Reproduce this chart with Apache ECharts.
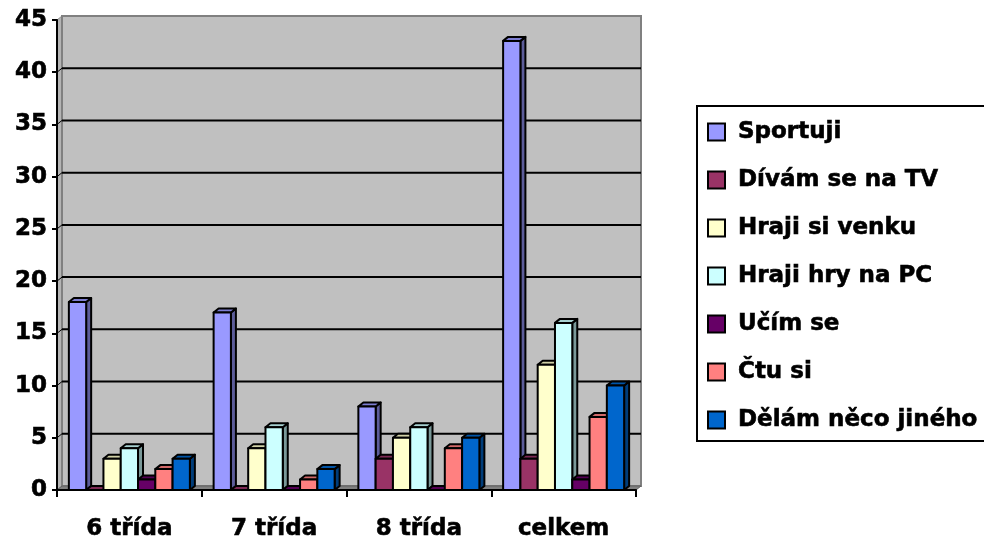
<!DOCTYPE html>
<html>
<head>
<meta charset="utf-8">
<script src="https://cdn.jsdelivr.net/npm/echarts@6/dist/echarts.min.js"></script>
<style>
  html, body { margin: 0; padding: 0; background: #fff; }
  #chart { width: 984px; height: 542px; }
</style>
</head>
<body>
<div id="chart"></div>
<script>
// Co děláme ve volném čase – počty žáků podle tříd
const categories = ['6 třída', '7 třída', '8 třída', 'celkem'];
const seriesNames = ['Sportuji', 'Dívám se na TV', 'Hraji si venku', 'Hraji hry na PC', 'Učím se', 'Čtu si', 'Dělám něco jiného'];
const sportuji = [18, 17, 8, 43];
const divamSeNaTV = [0, 0, 3, 3];
const hrajiSiVenku = [3, 4, 5, 12];
const hrajiHryNaPC = [4, 6, 6, 16];
const ucimSe = [1, 0, 0, 1];
const ctuSi = [2, 1, 4, 7];
const delamNecoJineho = [3, 2, 5, 10];
const seriesColors = ['#9999FF', '#993366', '#FFFFCC', '#CCFFFF', '#660066', '#FF8080', '#0066CC'];
const yMin = 0, yMax = 45, yStep = 5;

const seriesValues = [sportuji, divamSeNaTV, hrajiSiVenku, hrajiHryNaPC, ucimSe, ctuSi, delamNecoJineho];

// depth of the 3D effect in pixels
const DX = 5, DY = 4;
const FONT = '"DejaVu Sans", sans-serif';
const FONT_SIZE = 23;
const textWeight = { fontFamily: FONT, fontWeight: 'bold', fontSize: FONT_SIZE, color: '#000', textBorderColor: '#000', textBorderWidth: 0.6 };

function shade(hex, k) {
  const n = parseInt(hex.slice(1), 16);
  const r = Math.round(((n >> 16) & 255) * k);
  const g = Math.round(((n >> 8) & 255) * k);
  const b = Math.round((n & 255) * k);
  return 'rgb(' + r + ',' + g + ',' + b + ')';
}

// back wall, side wall, floor and gridlines
function renderWall(params, api) {
  const cs = params.coordSys;
  const x0 = cs.x, x1 = cs.x + cs.width;
  const yb = api.coord([0, yMin])[1];
  const yt = api.coord([0, yMax])[1];
  const children = [];
  children.push({
    type: 'polygon',
    shape: { points: [[x0, yt], [x0 + DX, yt - DY], [x0 + DX, yb - DY], [x0, yb]] },
    style: { fill: '#B4B4B4', stroke: '#909090', lineWidth: 1 }
  });
  children.push({
    type: 'rect',
    shape: { x: x0 + DX, y: yt - DY, width: x1 - x0, height: yb - yt },
    style: { fill: '#C0C0C0', stroke: '#808080', lineWidth: 2 }
  });
  for (let v = yMin + yStep; v < yMax; v += yStep) {
    const y = api.coord([0, v])[1];
    children.push({
      type: 'line',
      shape: { x1: x0 + DX, y1: y - DY, x2: x1 + DX, y2: y - DY },
      style: { stroke: '#000', lineWidth: 2 }
    });
    children.push({
      type: 'line',
      shape: { x1: x0, y1: y, x2: x0 + DX, y2: y - DY },
      style: { stroke: '#000', lineWidth: 1 }
    });
  }
  children.push({
    type: 'polygon',
    shape: { points: [[x0, yb], [x0 + DX, yb - DY], [x1 + DX, yb - DY], [x1, yb]] },
    style: { fill: '#808080', stroke: '#606060', lineWidth: 1 }
  });
  return { type: 'group', children: children };
}

function makeBarRenderer(idx, count, color) {
  const sideColor = shade(color, 0.6);
  const topColor = shade(color, 0.82);
  return function (params, api) {
    const cat = api.value(0);
    const val = api.value(1);
    const base = api.coord([cat, 0]);
    const top = api.coord([cat, val]);
    const catW = api.size([1, 0])[0];
    const groupW = catW * 0.836;
    const bw = groupW / count;
    const x = base[0] - groupW / 2 + idx * bw;
    const yt = top[1], yb = base[1];
    const stroke = { stroke: '#000', lineWidth: 2, lineJoin: 'round' };
    return {
      type: 'group',
      children: [
        {
          type: 'polygon',
          shape: { points: [[x + bw, yt], [x + bw + DX, yt - DY], [x + bw + DX, yb - DY], [x + bw, yb]] },
          style: Object.assign({ fill: sideColor }, stroke)
        },
        {
          type: 'polygon',
          shape: { points: [[x, yt], [x + DX, yt - DY], [x + bw + DX, yt - DY], [x + bw, yt]] },
          style: Object.assign({ fill: topColor }, stroke)
        },
        {
          type: 'rect',
          shape: { x: x, y: yt, width: bw, height: yb - yt },
          style: Object.assign({ fill: color }, stroke)
        }
      ]
    };
  };
}

const chart = echarts.init(document.getElementById('chart'), null, { renderer: 'canvas' });

const series = [{
  type: 'custom',
  name: '__wall',
  silent: true,
  z: 1,
  renderItem: renderWall,
  data: [[0, 0]],
  encode: { x: 0, y: 1 }
}];
seriesNames.forEach(function (name, i) {
  series.push({
    type: 'custom',
    name: name,
    z: 3,
    color: seriesColors[i],
    renderItem: makeBarRenderer(i, seriesNames.length, seriesColors[i]),
    data: seriesValues[i].map(function (v, c) { return [c, v]; }),
    encode: { x: 0, y: 1 }
  });
});

chart.setOption({
  animation: false,
  backgroundColor: '#fff',
  grid: { left: 57, top: 20, width: 579, height: 470, containLabel: false },
  legend: {
    orient: 'vertical',
    left: 697,
    top: 106,
    padding: [14, 60, 9, 10],
    borderColor: '#000',
    borderWidth: 2,
    itemWidth: 17,
    itemHeight: 17,
    itemGap: 24,
    icon: 'rect',
    textStyle: Object.assign({ lineHeight: 24, padding: [0, 0, 0, 8] }, textWeight),
    data: seriesNames.map(function (n, i) {
      return { name: n, itemStyle: { color: seriesColors[i], borderColor: '#000', borderWidth: 2 } };
    })
  },
  xAxis: {
    type: 'category',
    data: categories,
    z: 10,
    axisLine: { lineStyle: { color: '#000', width: 2 } },
    axisTick: { show: true, length: 7, interval: 0, lineStyle: { color: '#000', width: 2 } },
    axisLabel: Object.assign({ margin: 28 }, textWeight),
    splitLine: { show: false }
  },
  yAxis: {
    type: 'value',
    min: yMin,
    max: yMax,
    interval: yStep,
    z: 10,
    axisLine: { show: true, lineStyle: { color: '#000', width: 2 } },
    axisTick: { show: true, length: 5, lineStyle: { color: '#000', width: 2 } },
    axisLabel: Object.assign({ margin: 10 }, textWeight),
    splitLine: { show: false }
  },
  series: series
});
</script>
</body>
</html>
